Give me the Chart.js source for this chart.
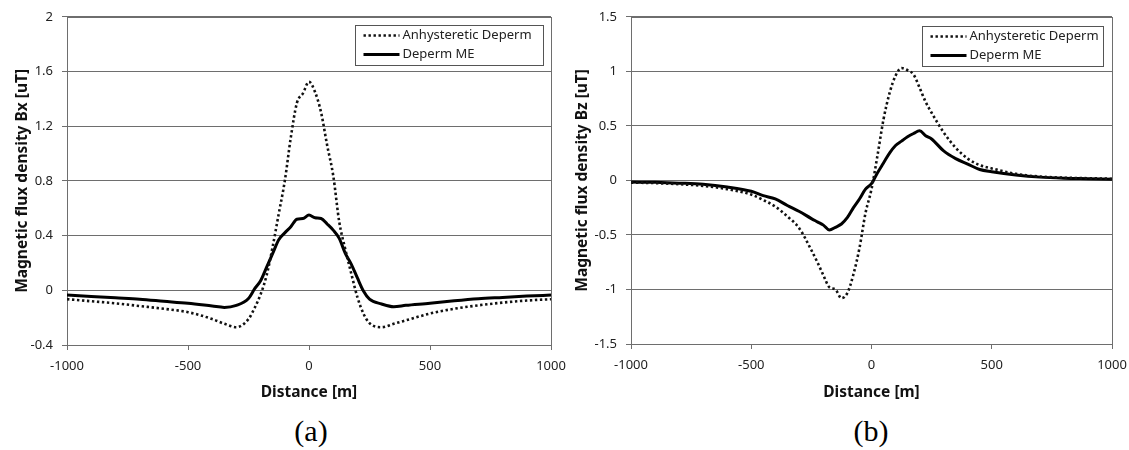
<!DOCTYPE html>
<html>
<head>
<meta charset="utf-8">
<script src="https://cdn.jsdelivr.net/npm/chart.js@4.4.1/dist/chart.umd.min.js"></script>
<style>
  body { margin: 0; background: #fff; width: 1129px; height: 450px; position: relative; overflow: hidden; }
  .wrap { position: absolute; top: 0; height: 410px; }
  #wrapA { left: 0; width: 580px; }
  #wrapB { left: 555px; width: 574px; }
  .cap { position: absolute; top: 414px; width: 80px; text-align: center; font-family: "Liberation Serif", serif; font-size: 30px; line-height: 34px; color: #000; }
</style>
</head>
<body>
<div class="wrap" id="wrapA"><canvas id="chartA"></canvas></div>
<div class="wrap" id="wrapB"><canvas id="chartB"></canvas></div>
<div class="cap" style="left:271px">(a)</div>
<div class="cap" style="left:831px">(b)</div>
<script>
// series names
const seriesNames = ['Anhysteretic Deperm', 'Deperm ME'];

// (a) Bx
const distA = [-1000, -900, -800, -700, -600, -500, -400, -350, -300, -250, -225, -200, -175, -150, -125, -100, -75, -50, -25, 0, 25, 50, 75, 100, 125, 150, 175, 200, 225, 250, 300, 350, 400, 500, 600, 700, 800, 900, 1000];
const anhysA = [-0.065, -0.08, -0.095, -0.115, -0.135, -0.16, -0.21, -0.245, -0.27, -0.21, -0.13, -0.03, 0.11, 0.32, 0.56, 0.8, 1.12, 1.37, 1.44, 1.525, 1.45, 1.3, 1.06, 0.84, 0.5, 0.3, 0.12, -0.05, -0.17, -0.24, -0.27, -0.245, -0.22, -0.17, -0.135, -0.11, -0.09, -0.075, -0.065];
const depermA = [-0.035, -0.045, -0.055, -0.065, -0.08, -0.095, -0.115, -0.125, -0.11, -0.06, 0.01, 0.07, 0.17, 0.27, 0.37, 0.42, 0.465, 0.52, 0.525, 0.55, 0.53, 0.525, 0.485, 0.44, 0.38, 0.27, 0.19, 0.09, -0.005, -0.065, -0.1, -0.12, -0.11, -0.095, -0.077, -0.062, -0.052, -0.042, -0.035];

// (b) Bz
const distB = [-1000, -900, -800, -700, -600, -500, -450, -400, -350, -300, -250, -225, -200, -175, -150, -125, -100, -75, -50, -25, 0, 25, 50, 75, 100, 125, 150, 175, 200, 225, 250, 300, 350, 400, 450, 500, 600, 700, 800, 900, 1000];
const anhysB = [-0.02, -0.025, -0.035, -0.05, -0.08, -0.13, -0.18, -0.24, -0.33, -0.44, -0.64, -0.75, -0.87, -0.98, -1.0, -1.08, -1.03, -0.86, -0.62, -0.3, -0.08, 0.23, 0.56, 0.8, 0.96, 1.03, 1.01, 0.97, 0.85, 0.72, 0.62, 0.44, 0.3, 0.2, 0.14, 0.11, 0.06, 0.035, 0.025, 0.02, 0.015];
const depermB = [-0.015, -0.018, -0.025, -0.035, -0.06, -0.1, -0.14, -0.17, -0.23, -0.285, -0.35, -0.38, -0.41, -0.455, -0.43, -0.4, -0.34, -0.25, -0.17, -0.08, -0.03, 0.07, 0.16, 0.25, 0.32, 0.36, 0.4, 0.43, 0.455, 0.41, 0.38, 0.27, 0.2, 0.15, 0.1, 0.08, 0.05, 0.03, 0.02, 0.015, 0.01];

// ticks
const xTicks = [-1000, -500, 0, 500, 1000];
const yTicksA = [-0.4, 0, 0.4, 0.8, 1.2, 1.6, 2];
const yTicksB = [-1.5, -1, -0.5, 0, 0.5, 1, 1.5];

const FONT = '"Noto Sans", "DejaVu Sans", sans-serif';
const GRID = '#6e6e6e';

// boxed legend inside the plot + frame around the plot
const boxLegend = {
    id: 'boxLegend',
    beforeDatasetsDraw(chart) {
        const { ctx, chartArea: a } = chart;
        ctx.save();
        ctx.strokeStyle = GRID;
        ctx.lineWidth = 1;
        ctx.strokeRect(Math.round(a.left) + 0.5, Math.round(a.top) + 0.5, Math.round(a.width), Math.round(a.height));
        ctx.restore();
    },
    afterDraw(chart, args, opts) {
        const { ctx, chartArea: a } = chart;
        const x0 = Math.round(a.left + opts.from * a.width) + 0.5;
        const x1 = Math.round(a.left + opts.to * a.width) + 0.5;
        const y0 = Math.round(a.top + opts.top) + 0.5;
        ctx.save();
        ctx.fillStyle = '#fff';
        ctx.fillRect(x0, y0, x1 - x0, opts.height);
        ctx.strokeStyle = '#555';
        ctx.lineWidth = 1;
        ctx.strokeRect(x0, y0, x1 - x0, opts.height);
        chart.data.datasets.forEach((ds, i) => {
            const y = y0 + 10 + i * 19;
            ctx.beginPath();
            ctx.setLineDash(ds.borderDash || []);
            ctx.lineWidth = ds.borderWidth;
            ctx.strokeStyle = ds.borderColor;
            ctx.moveTo(x0 + 8, y);
            ctx.lineTo(x0 + 44, y);
            ctx.stroke();
            ctx.setLineDash([]);
            ctx.fillStyle = '#222';
            ctx.font = '13px ' + FONT;
            ctx.textBaseline = 'middle';
            ctx.fillText(ds.label, x0 + 47, y);
        });
        ctx.restore();
    }
};

function points(xs, ys) {
    return xs.map((x, i) => ({ x: x, y: ys[i] }));
}

function makeChart(id, xs, anhys, deperm, yTicks, yTitle, cfg) {
    return new Chart(document.getElementById(id), {
        type: 'line',
        data: {
            datasets: [{
                label: seriesNames[0],
                data: points(xs, anhys),
                borderColor: '#111',
                borderWidth: 2.6,
                borderDash: [2.4, 2.6],
                pointRadius: 0,
                cubicInterpolationMode: 'monotone'
            }, {
                label: seriesNames[1],
                data: points(xs, deperm),
                borderColor: '#000',
                borderWidth: 3,
                pointRadius: 0,
                cubicInterpolationMode: 'monotone'
            }]
        },
        options: {
            responsive: true,
            maintainAspectRatio: false,
            animation: false,
            layout: { padding: { left: 0, right: cfg.padRight, top: cfg.padTop, bottom: 0 } },
            scales: {
                x: {
                    type: 'linear',
                    min: -1000, max: 1000,
                    afterBuildTicks: s => { s.ticks = xTicks.map(v => ({ value: v })); },
                    afterFit: s => { s.height = cfg.xHeight; s.paddingLeft = 10; s.paddingRight = 10; },
                    grid: { drawOnChartArea: false, drawTicks: true, tickLength: 5, color: GRID },
                    border: { color: GRID },
                    ticks: { autoSkip: false, maxRotation: 0, padding: 8, color: '#222', font: { family: FONT, size: 13 }, callback: v => String(v) },
                    title: { display: true, text: 'Distance [m]', color: '#111', padding: { top: 0, bottom: 8 }, font: { family: FONT, size: 15.5, weight: 'bold' } }
                },
                y: {
                    min: yTicks[0], max: yTicks[yTicks.length - 1],
                    afterBuildTicks: s => { s.ticks = yTicks.map(v => ({ value: v })); },
                    afterFit: s => { s.width = cfg.yWidth; },
                    grid: { color: GRID, tickLength: 5 },
                    border: { color: GRID },
                    ticks: { padding: 9, color: '#222', font: { family: FONT, size: 13 }, callback: v => String(v) },
                    title: { display: true, text: yTitle, color: '#111', padding: { top: cfg.yTitlePad, bottom: 0 }, font: { family: FONT, size: 15.5, weight: 'bold' } }
                }
            },
            plugins: {
                legend: { display: false },
                tooltip: { enabled: false },
                boxLegend: cfg.legend
            }
        },
        plugins: [boxLegend]
    });
}

makeChart('chartA', distA, anhysA, depermA, yTicksA, 'Magnetic flux density Bx [uT]', {
    padRight: 29, padTop: 15, xHeight: 65, yWidth: 67, yTitlePad: 13,
    legend: { from: 0.595, to: 0.983, top: 8, height: 40 }
});
makeChart('chartB', distB, anhysB, depermB, yTicksB, 'Magnetic flux density Bz [uT]', {
    padRight: 17, padTop: 12, xHeight: 66, yWidth: 76, yTitlePad: 18,
    legend: { from: 0.606, to: 0.981, top: 9, height: 40 }
});
</script>
</body>
</html>
